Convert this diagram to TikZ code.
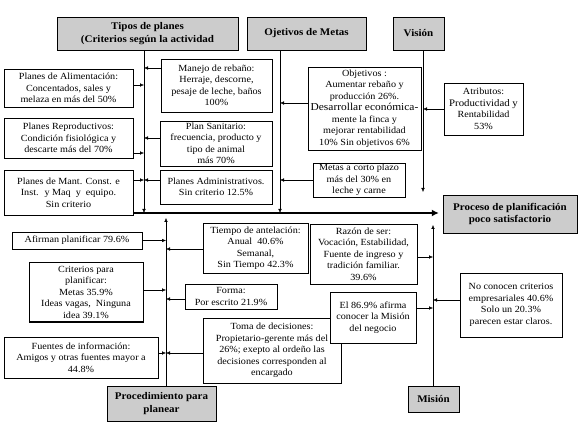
\documentclass[tikz,border=0pt]{standalone}
\usepackage{fontspec}
\setmainfont{Liberation Serif}[FakeStretch=1.08]
\usetikzlibrary{arrows.meta}

\begin{document}
\begin{tikzpicture}[x=1pt,y=-1pt,>={Latex[length=4pt,width=3.5pt]},
  every node/.style={font=\fontsize{9.4}{11.5}\selectfont},
  box/.style={draw,fill=white,align=center,inner sep=1pt},
  head node/.style={box,fill=gray!40,font=\fontsize{10.2}{12.5}\selectfont\bfseries}]
  \useasboundingbox (0,0) rectangle (580,427);
  % cabezas
  \node[head node, minimum width=181, minimum height=33] (tipos) at (147.5,33.5) {Tipos de planes\\(Criterios según la actividad};
  \node[head node, minimum width=119, minimum height=33] (metas) at (306.5,33.5) {Ojetivos de Metas};
  \node[head node, minimum width=51, minimum height=33] (vision) at (418.5,33.5) {Visión};
  \node[head node, minimum width=134, minimum height=38] (proc) at (510,214) {Proceso de planificación\\poco satisfactorio};
  \node[head node, minimum width=109, minimum height=35] (proced) at (161.5,403.5) {Procedimiento para\\planear};
  \node[head node, minimum width=51, minimum height=26] (mision) at (433.5,399) {Misión};
  % tipos de planes
  \node[box, minimum width=129, minimum height=38] (alim) at (68.5,88) {Planes de Alimentación:\\Concentados, sales y\\melaza en más del 50\%};
  \node[box, minimum width=111, minimum height=53] (manejo) at (216.5,85.5) {Manejo de rebaño:\\Herraje, descorne,\\pesaje de leche, baños\\100\%};
  \node[box, minimum width=129, minimum height=40] (repro) at (68.5,138) {Planes Reproductivos:\\Condición fisiológica y\\descarte más del 70\%};
  \node[box, minimum width=112, minimum height=45] (sanit) at (216,143.5) {Plan Sanitario:\\frecuencia, producto y\\tipo de animal\\más 70\%};
  \node[box, minimum width=129, minimum height=45] (mant) at (68.5,192.5) {Planes de Mant. Const. e\\Inst. \ y Maq \ y \ equipo.\\Sin criterio};
  \node[box, minimum width=112, minimum height=34] (admin) at (216,187) {Planes Administrativos.\\Sin criterio 12.5\%};
  % metas y vision
  \node[box, minimum width=113, minimum height=83] (objet) at (364.5,108.5) {Objetivos :\\Aumentar rebaño y\\producción 26\%.\\{\fontsize{10.6}{11.5}\selectfont Desarrollar económica-}\\mente la finca y\\mejorar rentabilidad\\10\% Sin objetivos 6\%};
  \node[box, minimum width=92, minimum height=34] (corto) at (359,180) {Metas a corto plazo\\más del 30\% en\\leche y carne};
  \node[box, minimum width=79, minimum height=52] (atrib) at (483.5,109) {Atributos:\\{\fontsize{10}{11.5}\selectfont Productividad y}\\Rentabilidad\\53\%};
  % procedimiento
  \node[box, minimum width=130, minimum height=17] (afirman) at (77,240.5) {Afirman planificar 79.6\%};
  \node[box, minimum width=105, minimum height=50] (tiempo) at (255.5,248) {Tiempo de antelación:\\Anual \ 40.6\%\\Semanal,\\Sin Tiempo 42.3\%};
  \node[box, minimum width=114, minimum height=60] (criter) at (86,292) {Criterios para\\planificar:\\Metas 35.9\%\\Ideas vagas, \ Ninguna\\idea 39.1\%};
  \draw[line width=1.5pt] (criter.south west) -- (criter.south east);
  \node[box, minimum width=92, minimum height=25] (forma) at (231,296.5) {Forma:\\Por escrito 21.9\%};
  \node[box, minimum width=154, minimum height=41] (fuentes) at (81,357.5) {Fuentes de información:\\Amigos y otras fuentes mayor a\\44.8\%};
  \node[box, minimum width=138, minimum height=65] (toma) at (272,350.5) {Toma de decisiones:\\Propietario-gerente más del\\26\%; exepto al ordeño las\\decisiones corresponden al\\encargado};
  % mision
  \node[box, minimum width=107, minimum height=60] (razon) at (363.5,254) {Razón de ser:\\Vocación, Estabilidad,\\Fuente de ingreso y\\tradición familiar.\\39.6\%};
  \node[box, minimum width=86, minimum height=51] (elmis) at (373,317.5) {El 86.9\% afirma\\conocer la Misión\\del negocio};
  \node[box, minimum width=102, minimum height=64] (noconoc) at (511,305) {No conocen criterios\\empresariales 40.6\%\\Solo un 20.3\%\\parecen estar claros.};
  % espina
  \coordinate (spine) at (133,213);
  \coordinate (t1) at (144,213);
  \coordinate (m1) at (280,213);
  \coordinate (v1) at (423,192);
  \coordinate (p1) at (166,218);
  \coordinate (s1) at (433,225);
  \draw[line width=2.5pt,-{Latex[length=7pt,width=7pt]},shorten >=4pt] (spine) -- (proc.west |- spine);
  \draw[->] (tipos.south -| t1) -- (t1);
  \draw[->] (metas.south -| m1) -- (m1);
  \draw[->] (vision.south -| v1) -- (v1);
  \draw[->] (proced.north -| p1) -- (p1);
  \draw[->] (mision.north -| s1) -- (s1);
  % flechas
  \foreach \n/\s in {alim/3, repro/-15, mant/12.5}
    \draw[->] ([yshift=\s pt]\n.east) -- ([yshift=\s pt]\n.east -| t1);
  \foreach \n/\s in {manejo/17.5, sanit/5.5, admin/7}
    \draw[->] ([yshift=\s pt]\n.west) -- ([yshift=\s pt]\n.west -| t1);
  \foreach \n/\s in {objet/5.5, corto/0}
    \draw[->] ([yshift=\s pt]\n.west) -- ([yshift=\s pt]\n.west -| m1);
  \draw[->] (atrib.west) -- (atrib.west -| v1);
  \foreach \n/\s in {afirman/0, criter/2, fuentes/4.5}
    \draw[->] ([yshift=\s pt]\n.east) -- ([yshift=\s pt]\n.east -| p1);
  \foreach \n/\s in {tiempo/-1, forma/-2.5, toma/-2.5}
    \draw[->] ([yshift=\s pt]\n.west) -- ([yshift=\s pt]\n.west -| p1);
  \foreach \n/\s in {razon/-3, elmis/9.5}
    \draw[->] ([yshift=\s pt]\n.east) -- ([yshift=\s pt]\n.east -| s1);
  \draw[->] ([yshift=5pt]noconoc.west) -- ([yshift=5pt]noconoc.west -| s1);
\end{tikzpicture}
\end{document}
